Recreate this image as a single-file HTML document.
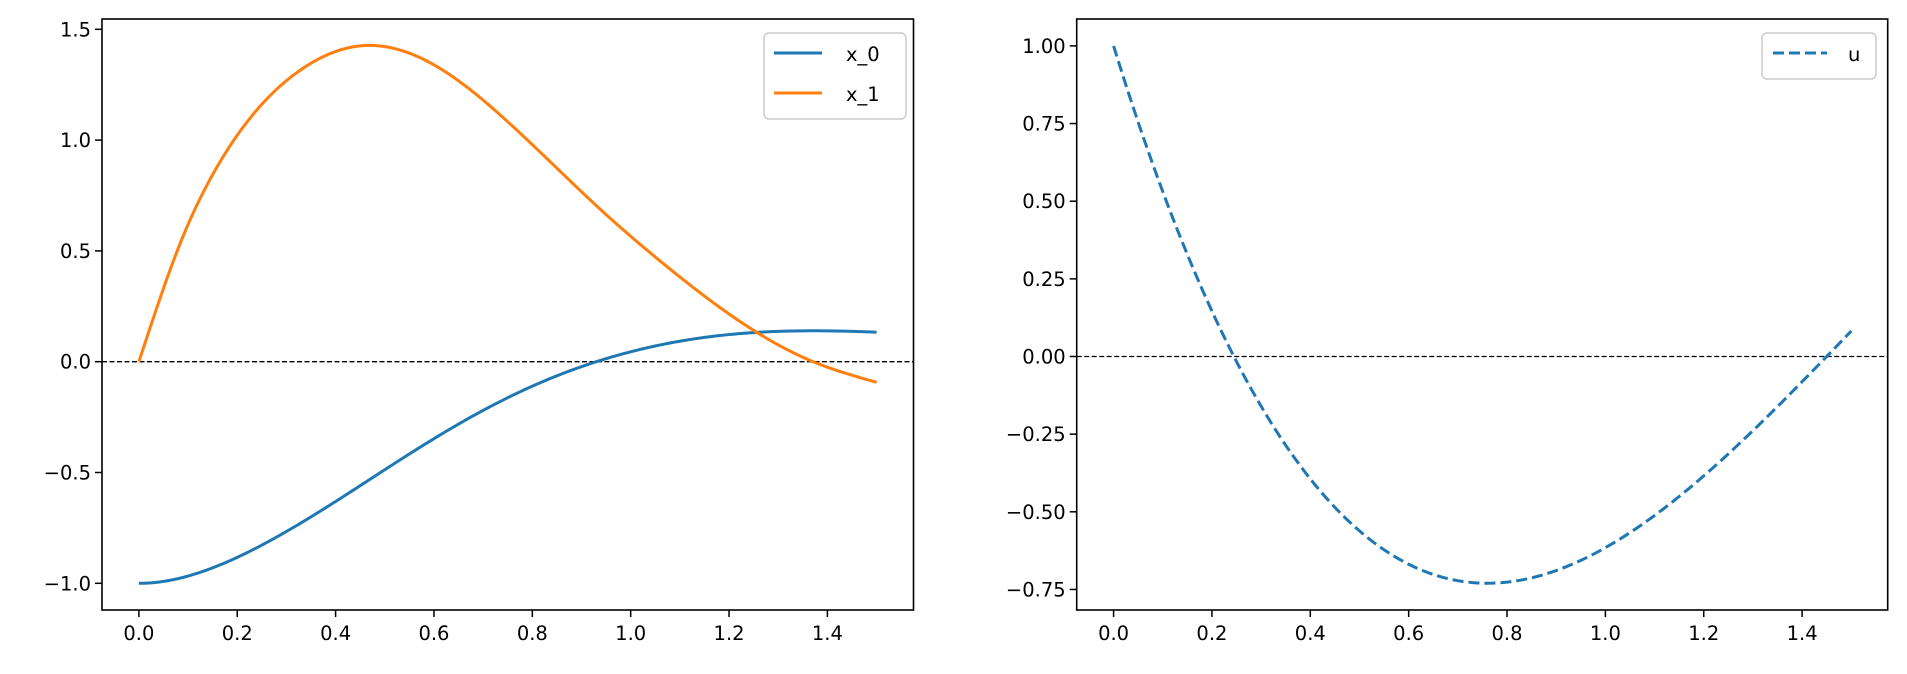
<!DOCTYPE html>
<html><head><meta charset="utf-8"><style>
body{margin:0;background:#fff}
svg{display:block}
text{font-family:"DejaVu Sans","Liberation Sans",sans-serif;font-size:19.5px;fill:#000}
</style></head><body>
<svg id="s" width="1907" height="674" viewBox="0 0 1907 674" xmlns="http://www.w3.org/2000/svg"></svg>
<script>
const S=document.getElementById('s');let h='';
const XS=491.8;
function spline(K){const n=K.length,x=K.map(p=>p[0]),y=K.map(p=>p[1]);const m=new Array(n).fill(0);
 const a=[],b=[],c=[],d=[];for(let i=1;i<n-1;i++){a[i]=x[i]-x[i-1];b[i]=2*(x[i+1]-x[i-1]);c[i]=x[i+1]-x[i];d[i]=6*((y[i+1]-y[i])/(x[i+1]-x[i])-(y[i]-y[i-1])/(x[i]-x[i-1]));}
 for(let i=2;i<n-1;i++){const w=a[i]/b[i-1];b[i]-=w*c[i-1];d[i]-=w*d[i-1];}
 for(let i=n-2;i>=1;i--){m[i]=(d[i]-(i<n-2?c[i]*m[i+1]:0))/b[i];}
 return t=>{let i=0;while(i<n-2&&t>x[i+1])i++;const hh=x[i+1]-x[i],A=(x[i+1]-t)/hh,B=(t-x[i])/hh;
 return A*y[i]+B*y[i+1]+((A*A*A-A)*m[i]+(B*B*B-B)*m[i+1])*hh*hh/6;};}
function poly(pts){return 'M'+pts.map(p=>p[0].toFixed(2)+','+p[1].toFixed(2)).join(' L');}
function axes(L,R,x0,yf,yt,fmt){
 const B=610;
 h+=`<line x1="${L}" x2="${R}" y1="${yf(0)}" y2="${yf(0)}" stroke="#000" stroke-width="1.3" stroke-dasharray="5,2.5"/>`;
 for(let i=0;i<=7;i++){const x=x0+i*0.2*XS;h+=`<line x1="${x}" x2="${x}" y1="${B}" y2="${B+7}" stroke="#000" stroke-width="1.5"/><text x="${x}" y="${B+30}" text-anchor="middle">${(i*0.2).toFixed(1)}</text>`;}
 yt.forEach(v=>{const y=yf(v);h+=`<line x1="${L-7}" x2="${L}" y1="${y}" y2="${y}" stroke="#000" stroke-width="1.5"/><text x="${L-11}" y="${y+7}" text-anchor="end">${fmt(v)}</text>`;});
}
function fm(v,d){let s=Math.abs(v).toFixed(d);return (v<-1e-9?'\u2212':'')+s;}
const lx0=102+0.075*XS, ly=v=>361.7-v*221.6;
axes(102,913.5,lx0,ly,[-1,-0.5,0,0.5,1,1.5],v=>fm(v,1));
const f1=spline([[0,0],[.0876,.554],[.1487,.839],[.23,1.11],[.3317,1.321],[.4536,1.426],[.6027,1.336],[.738,1.107],[.9376,.689],[1.08,.418],[1.256,.133],[1.371,0],[1.5,-.093]]);
const N=300,dt=1.5/N;const x1=[],x0r=[];let acc=0;
for(let i=0;i<=N;i++){const t=i*dt,v=f1(t);if(i)acc+=(v+x1[i-1][1])/2*dt;x1.push([t,v]);x0r.push([t,acc]);}
const sc=1.133/acc;const x0=x0r.map(p=>[p[0],-1+p[1]*sc]);
h+=`<path d="${poly(x0.map(p=>[lx0+p[0]*XS,ly(p[1])]))}" fill="none" stroke="#1f77b4" stroke-width="3"/>`;
h+=`<path d="${poly(x1.map(p=>[lx0+p[0]*XS,ly(p[1])]))}" fill="none" stroke="#ff7f0e" stroke-width="3"/>`;
h+=`<rect x="102" y="19" width="811.5" height="591" fill="none" stroke="#000" stroke-width="1.6"/>`;
h+=`<rect x="764" y="33" width="142" height="86" rx="5" fill="#fff" fill-opacity="0.8" stroke="#ccc" stroke-width="1.5"/>
<line x1="774" x2="822" y1="53" y2="53" stroke="#1f77b4" stroke-width="3"/><text x="846" y="61">x_0</text>
<line x1="774" x2="822" y1="93" y2="93" stroke="#ff7f0e" stroke-width="3"/><text x="846" y="101">x_1</text>`;
const rx0=1076.7+0.075*XS, ry=v=>45.9-(v-1)*310.6;
axes(1076.7,1887.7,rx0,ry,[-0.75,-0.5,-0.25,0,0.25,0.5,0.75,1],v=>fm(v,2));
const u=[];for(let i=0;i<=150;i++){const t=i*0.01,d=t-0.76;u.push([t,-0.73+d*d*(2.229-1.008*d)]);}
h+=`<path d="${poly(u.map(p=>[rx0+p[0]*XS,ry(p[1])]))}" fill="none" stroke="#1f77b4" stroke-width="3" stroke-dasharray="11,5"/>`;
h+=`<rect x="1076.7" y="19" width="811" height="591" fill="none" stroke="#000" stroke-width="1.6"/>`;
h+=`<rect x="1762" y="33" width="114" height="46" rx="5" fill="#fff" fill-opacity="0.8" stroke="#ccc" stroke-width="1.5"/>
<line x1="1773" x2="1827" y1="53" y2="53" stroke="#1f77b4" stroke-width="3" stroke-dasharray="11,5"/><text x="1848" y="61">u</text>`;
S.innerHTML=h;
</script>
</body></html>
